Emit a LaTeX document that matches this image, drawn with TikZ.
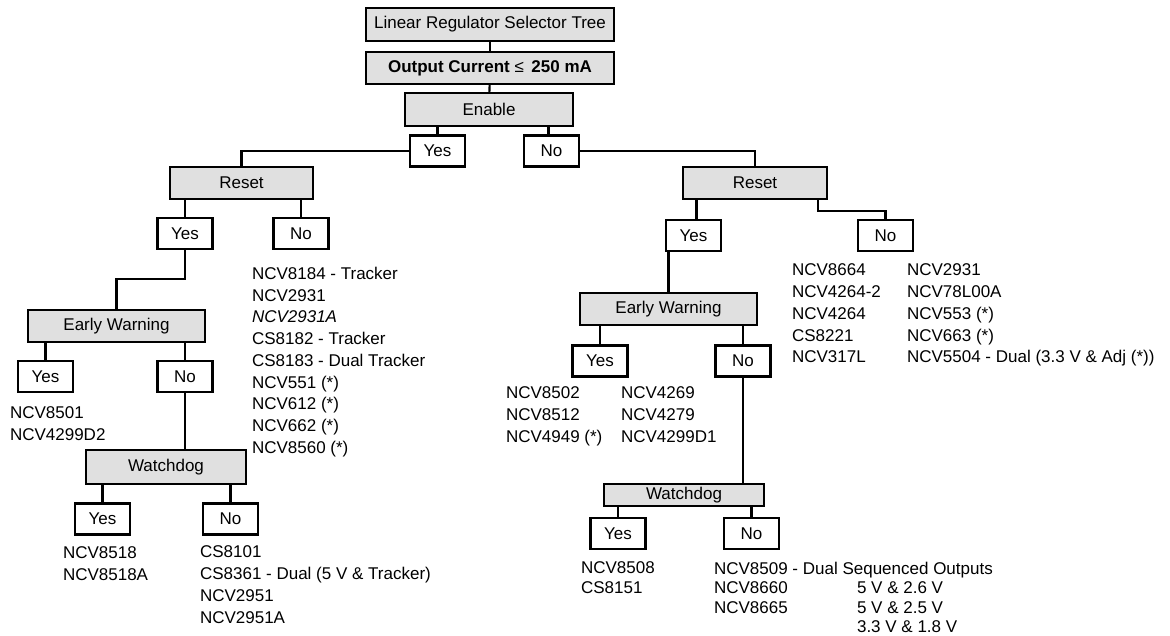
\documentclass[tikz,border=0pt]{standalone}
\usepackage{fontspec}
\setmainfont{Liberation Sans}
\usetikzlibrary{positioning}
\definecolor{boxgray}{RGB}{224,224,224}

\begin{document}
\begin{tikzpicture}[x=1pt, y=-1pt, line width=2.1pt,
  every node/.style={font=\fontsize{17}{21.75}\selectfont},
  gbox/.style={draw, fill=boxgray, inner sep=0pt, minimum height=32pt},
  ans/.style={draw, fill=white, inner sep=0pt, minimum width=55pt, minimum height=31pt},
  lst/.style={anchor=north west, align=left, inner sep=0pt},
  tight/.style={font=\fontsize{17}{19.6}\selectfont}]
\useasboundingbox (0,0) rectangle (1170,635);

% top of the tree
\node[gbox, minimum width=248pt, minimum height=33pt] (title) at (490,24.5) {Linear Regulator Selector Tree};
\node[gbox, minimum width=248pt] (current) at (490,68) {\textbf{Output Current} ≤\, \textbf{250 mA}};
\node[gbox, minimum width=168pt, minimum height=33pt] (enable) at (489,109.5) {Enable};
\node[ans] (yes1) at (437.5,151) {Yes};
\node[ans] (no1) at (551.5,151) {No};

% enable: yes
\node[gbox, minimum width=143pt] (resetL) at (241.5,183) {Reset};
\node[ans] (yes2) at (185,233.5) {Yes};
\node[ans] (no2) at (301,233.5) {No};
\node[gbox, minimum width=177pt] (earlyL) at (116.5,326) {Early Warning};
\node[ans] (yes3) at (45.5,376.5) {Yes};
\node[ans] (no3) at (185,376.5) {No};
\node[gbox, minimum width=160pt, minimum height=34pt] (watchL) at (166,467) {Watchdog};
\node[ans] (yes4) at (102.5,519) {Yes};
\node[ans] (no4) at (230.5,519) {No};

% enable: no
\node[gbox, minimum width=144pt] (resetR) at (755,183) {Reset};
\node[ans] (yes5) at (693.5,235.5) {Yes};
\node[ans] (no5) at (885.5,235.5) {No};
\node[gbox, minimum width=177pt] (earlyR) at (668.5,309) {Early Warning};
\node[ans] (yes6) at (600,361) {Yes};
\node[ans] (no6) at (743,361) {No};
\node[gbox, minimum width=160pt, minimum height=22pt] (watchR) at (684,495) {Watchdog};
\node[ans] (yes7) at (618,533.5) {Yes};
\node[ans] (no7) at (751.5,533.5) {No};

\draw (title) -- (current);
\draw (current) -- (enable);
\draw (yes1.north) -- (yes1.north |- enable.south);
\draw ([xshift=-3pt]no1.north) -- ([xshift=-3pt]no1.north |- enable.south);

\draw (yes1.west) -| (resetL.north);
\draw (yes2.north) -- (yes2.north |- resetL.south);
\draw (no2.north) -- (no2.north |- resetL.south);
\draw (yes2.south) -- ++(0,29) -| (earlyL.north);
\draw (yes3.north) -- (yes3.north |- earlyL.south);
\draw (no3.north) -- (no3.north |- earlyL.south);
\draw (no3.south) -- (no3.south |- watchL.north);
\draw (yes4.north) -- (yes4.north |- watchL.south);
\draw (no4.north) -- (no4.north |- watchL.south);

\draw (no1.east) -| (resetR.north);
\draw ([xshift=3pt]yes5.north) -- ([xshift=3pt]yes5.north |- resetR.south);
\draw ([xshift=-10pt]resetR.south east) -- ++(0,11) -| (no5.north);
\draw (earlyR.north) -- (earlyR.north |- yes5.south);
\draw (yes6.north) -- (yes6.north |- earlyR.south);
\draw (no6.north) -- (no6.north |- earlyR.south);
\draw (no6.south) -- (no6.south |- watchR.north);
\draw (yes7.north) -- (yes7.north |- watchR.south);
\draw (no7.north) -- (no7.north |- watchR.south);

% part lists
\node[lst] (listA) at (251,266) {NCV8184 - Tracker\\NCV2931\\\textit{NCV2931A}\\CS8182 - Tracker\\CS8183 - Dual Tracker\\NCV551 (*)\\NCV612 (*)\\NCV662 (*)\\NCV8560 (*)};
\node[lst] (listB) at (9,406) {NCV8501\\NCV4299D2};
\node[lst] (listC) at (62,546) {NCV8518\\NCV8518A};
\node[lst] (listD) at (199,545) {CS8101\\CS8361 - Dual (5 V \& Tracker)\\NCV2951\\NCV2951A};
\node[lst] (listE) at (791,263) {NCV8664\\NCV4264-2\\NCV4264\\CS8221\\NCV317L};
\node[lst] (listF) at (906,263) {NCV2931\\NCV78L00A\\NCV553 (*)\\NCV663 (*)\\NCV5504 - Dual (3.3 V \& Adj (*))};
\node[lst] (listG) at (505,386) {NCV8502\\NCV8512\\NCV4949 (*)};
\node[lst] (listH) at (620,386) {NCV4269\\NCV4279\\NCV4299D1};
\node[lst, tight] (listI) at (580,561) {NCV8508\\CS8151};
\node[lst, tight] (listJ) at (713,561) {NCV8509 - Dual Sequenced Outputs\\NCV8660\\NCV8665};
\node[lst, tight] (listK) at (856,580.6) {5 V \& 2.6 V\\5 V \& 2.5 V\\3.3 V \& 1.8 V};
\end{tikzpicture}
\end{document}
